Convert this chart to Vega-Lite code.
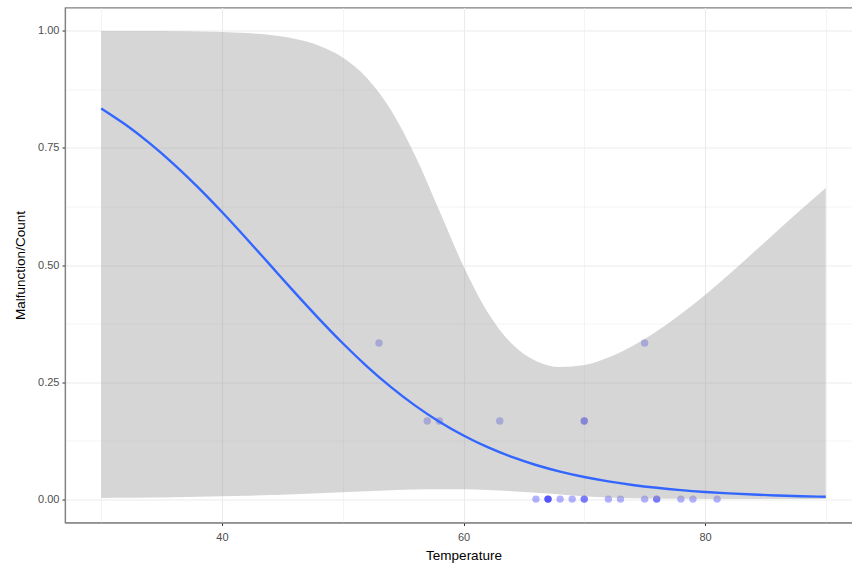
{
  "$schema": "https://vega.github.io/schema/vega-lite/v6.json",
  "width": 797,
  "height": 515,
  "autosize": {"type": "none"},
  "padding": {"left": 65, "top": 7.5, "right": 0, "bottom": 43.5},
  "background": "white",
  "config": {
    "view": {"stroke": "#808080", "strokeWidth": 1.2},
    "font": "Liberation Sans",
    "axis": {
      "domainColor": "#808080",
      "domainWidth": 1.2,
      "tickColor": "#333333",
      "tickSize": 3,
      "labelColor": "#4d4d4d",
      "labelFontSize": 11,
      "labelFont": "Liberation Sans",
      "titleFont": "Liberation Sans",
      "titleFontSize": 13.5,
      "titleFontWeight": "normal",
      "titleColor": "#000000",
      "gridColor": "#ebebeb"
    }
  },
  "datasets": {
    "obs": [
      {"Temperature": 66, "rate": 0},
      {"Temperature": 70, "rate": 0.1667},
      {"Temperature": 69, "rate": 0},
      {"Temperature": 68, "rate": 0},
      {"Temperature": 67, "rate": 0},
      {"Temperature": 72, "rate": 0},
      {"Temperature": 73, "rate": 0},
      {"Temperature": 70, "rate": 0},
      {"Temperature": 57, "rate": 0.1667},
      {"Temperature": 63, "rate": 0.1667},
      {"Temperature": 70, "rate": 0.1667},
      {"Temperature": 78, "rate": 0},
      {"Temperature": 67, "rate": 0},
      {"Temperature": 53, "rate": 0.3333},
      {"Temperature": 67, "rate": 0},
      {"Temperature": 75, "rate": 0},
      {"Temperature": 70, "rate": 0},
      {"Temperature": 81, "rate": 0},
      {"Temperature": 76, "rate": 0},
      {"Temperature": 79, "rate": 0},
      {"Temperature": 75, "rate": 0.3333},
      {"Temperature": 76, "rate": 0},
      {"Temperature": 58, "rate": 0.1667}
    ],
    "fit": [
      {"Temperature": 30, "p": 0.8344, "lo": 0.0022, "hi": 0.9999},
      {"Temperature": 32, "p": 0.7999, "lo": 0.0027, "hi": 0.9998},
      {"Temperature": 34, "p": 0.7603, "lo": 0.0033, "hi": 0.9997},
      {"Temperature": 36, "p": 0.7157, "lo": 0.0040, "hi": 0.9994},
      {"Temperature": 38, "p": 0.6664, "lo": 0.0049, "hi": 0.9988},
      {"Temperature": 40, "p": 0.6132, "lo": 0.0060, "hi": 0.9976},
      {"Temperature": 42, "p": 0.5572, "lo": 0.0073, "hi": 0.9954},
      {"Temperature": 44, "p": 0.4997, "lo": 0.0087, "hi": 0.9913},
      {"Temperature": 46, "p": 0.4421, "lo": 0.0105, "hi": 0.9834},
      {"Temperature": 48, "p": 0.3861, "lo": 0.0125, "hi": 0.9690},
      {"Temperature": 50, "p": 0.3329, "lo": 0.0148, "hi": 0.9433},
      {"Temperature": 52, "p": 0.2837, "lo": 0.0170, "hi": 0.8995},
      {"Temperature": 54, "p": 0.2391, "lo": 0.0190, "hi": 0.8306},
      {"Temperature": 56, "p": 0.1996, "lo": 0.0205, "hi": 0.7334},
      {"Temperature": 58, "p": 0.1652, "lo": 0.0212, "hi": 0.6161},
      {"Temperature": 60, "p": 0.1358, "lo": 0.0210, "hi": 0.4975},
      {"Temperature": 62, "p": 0.1108, "lo": 0.0195, "hi": 0.3991},
      {"Temperature": 64, "p": 0.0900, "lo": 0.0170, "hi": 0.3316},
      {"Temperature": 66, "p": 0.0728, "lo": 0.0135, "hi": 0.2949},
      {"Temperature": 68, "p": 0.0587, "lo": 0.0098, "hi": 0.2820},
      {"Temperature": 70, "p": 0.0471, "lo": 0.0061, "hi": 0.2862},
      {"Temperature": 72, "p": 0.0378, "lo": 0.0035, "hi": 0.3022},
      {"Temperature": 74, "p": 0.0302, "lo": 0.0020, "hi": 0.3269},
      {"Temperature": 76, "p": 0.0241, "lo": 0.0011, "hi": 0.3583},
      {"Temperature": 78, "p": 0.0192, "lo": 0.0006, "hi": 0.3951},
      {"Temperature": 80, "p": 0.0153, "lo": 0.0003, "hi": 0.4361},
      {"Temperature": 82, "p": 0.0122, "lo": 0.0002, "hi": 0.4803},
      {"Temperature": 84, "p": 0.0097, "lo": 0.0001, "hi": 0.5265},
      {"Temperature": 86, "p": 0.0077, "lo": 0.0001, "hi": 0.5730},
      {"Temperature": 88, "p": 0.0061, "lo": 0.0000, "hi": 0.6194},
      {"Temperature": 90, "p": 0.0049, "lo": 0.0000, "hi": 0.6644}
    ]
  },
  "encoding": {
    "x": {
      "field": "Temperature",
      "type": "quantitative",
      "scale": {"domain": [27, 93], "nice": false, "zero": false},
      "axis": {
        "title": "Temperature",
        "values": [30, 40, 50, 60, 70, 80, 90],
        "labelExpr": "datum.value % 20 === 0 ? datum.label : ''",
        "tickOpacity": {"condition": {"test": "datum.value % 20 === 0", "value": 1}, "value": 0},
        "gridWidth": {"condition": {"test": "datum.value % 20 === 0", "value": 1.1}, "value": 0.55},
        "labelPadding": 6,
        "titlePadding": 6
      }
    }
  },
  "layer": [
    {
      "data": {"name": "obs"},
      "mark": {"type": "circle", "size": 55, "color": "#0000ff", "opacity": 0.3},
      "encoding": {
        "y": {
          "field": "rate",
          "type": "quantitative",
          "scale": {"domain": [-0.05, 1.05], "nice": false, "zero": false},
          "axis": {
            "title": "Malfunction/Count",
            "values": [0, 0.125, 0.25, 0.375, 0.5, 0.625, 0.75, 0.875, 1],
            "format": ".2f",
            "labelExpr": "(datum.value * 4) % 1 === 0 ? datum.label : ''",
            "tickOpacity": {"condition": {"test": "(datum.value * 4) % 1 === 0", "value": 1}, "value": 0},
            "gridWidth": {"condition": {"test": "(datum.value * 4) % 1 === 0", "value": 1.1}, "value": 0.55},
            "labelPadding": 3,
            "titlePadding": 10
          }
        }
      }
    },
    {
      "data": {"name": "fit"},
      "mark": {"type": "area", "color": "#999999", "opacity": 0.4, "interpolate": "monotone"},
      "encoding": {
        "y": {"field": "lo", "type": "quantitative"},
        "y2": {"field": "hi"}
      }
    },
    {
      "data": {"name": "fit"},
      "mark": {"type": "line", "color": "#3366FF", "strokeWidth": 2.4, "interpolate": "monotone"},
      "encoding": {
        "y": {"field": "p", "type": "quantitative"}
      }
    }
  ]
}
